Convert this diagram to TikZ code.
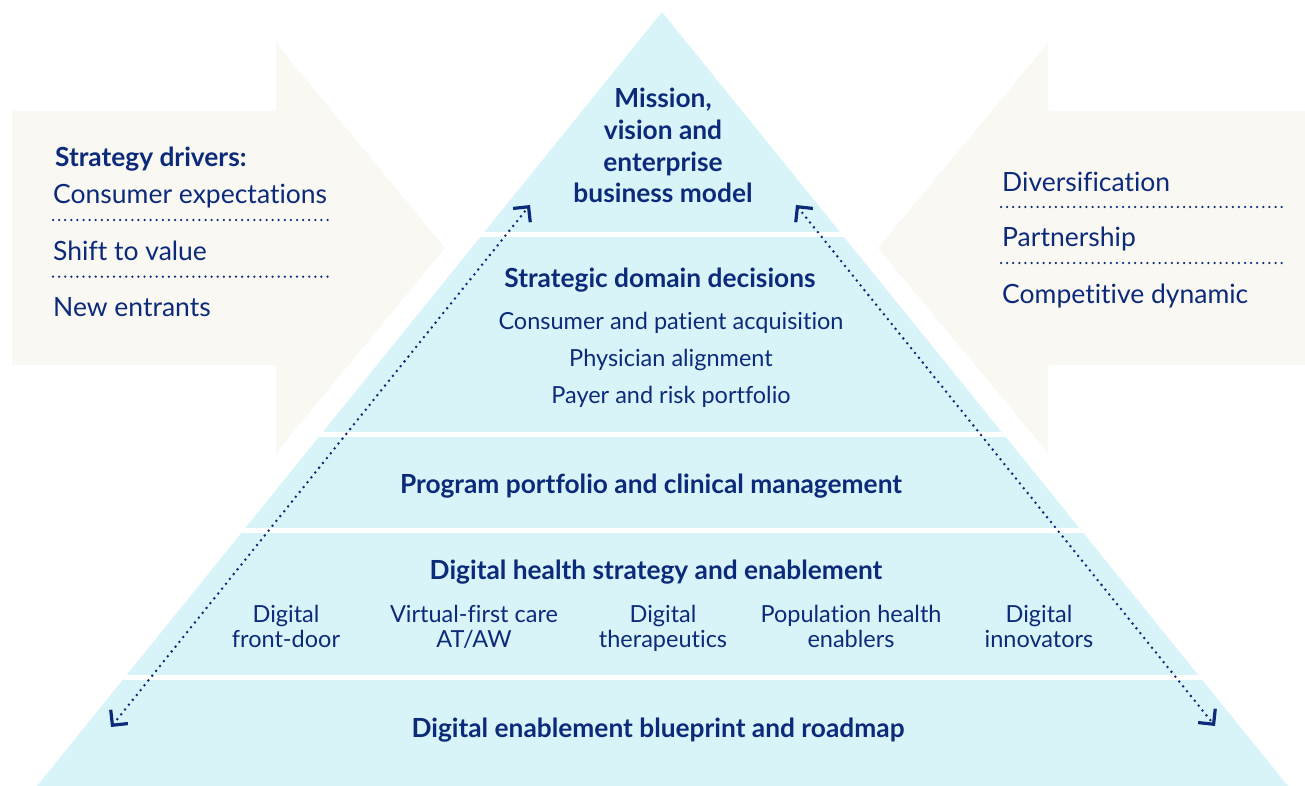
\documentclass[tikz,border=0pt]{standalone}
\usepackage{fontspec}
\setmainfont{Lato}[Ligatures=NoCommon]
\usetikzlibrary{arrows.meta,positioning}
\definecolor{navy}{RGB}{12,42,122}
\definecolor{paleblue}{RGB}{216,244,248}
\definecolor{sand}{RGB}{249,248,243}
\tikzset{
  lvl/.style={font=\bfseries\fontsize{26.3}{31.7}\selectfont,text=navy,align=center,inner sep=0pt,anchor=base},
  item/.style={font=\fontsize{23.5}{25}\selectfont,text=navy,align=center,inner sep=0pt,anchor=base},
  side/.style={font=\fontsize{26.5}{28}\selectfont,text=navy,inner sep=0pt,anchor=base west},
  sepline/.style={navy,line width=2.5pt,line cap=round,dash pattern=on 0pt off 6.1pt},
  link/.style={navy,line width=2.8pt,line cap=round,dash pattern=on 0pt off 6.2pt,
    {Straight Barb[length=11pt,width=22pt,line width=3.2pt]}-{Straight Barb[length=11pt,width=22pt,line width=3.2pt]}},
}
\begin{document}
\begin{tikzpicture}[x=1pt,y=-1pt]
\useasboundingbox (0,0) rectangle (1305,786);
% side arrows
\fill[sand] (12,111) -- (276,111) -- (276,43) -- (445,248) -- (276,453) -- (276,365) -- (12,365) -- cycle;
\fill[sand] (1305,111) -- (1048,111) -- (1048,43) -- (878,248) -- (1048,453) -- (1048,365) -- (1305,365) -- cycle;
%
% pyramid
\coordinate (apex) at (662,12);
\coordinate (baseL) at (37,786);
\coordinate (baseR) at (1288,786);
\fill[paleblue] (apex) -- (baseR) -- (baseL) -- cycle;
\begin{scope}
\clip (apex) -- (baseR) -- (baseL) -- cycle;
\foreach \y in {234.5,434.8,530,677}
  \draw[white,line width=5pt] (0,\y) -- (1305,\y);
\end{scope}
%
\node (mission) [lvl] at (663,203) {Mission,\\vision and\\enterprise\\business model};
\node (strat) [lvl] at (660,287) {Strategic domain decisions};
\node (cons) [item] at (671,329) {Consumer and patient acquisition};
\node (phys) [item] at (671,366) {Physician alignment};
\node (payer) [item] at (671,403) {Payer and risk portfolio};
\node (prog) [lvl] at (651,493) {Program portfolio and clinical management};
\node (dhs) [lvl] at (656,579) {Digital health strategy and enablement};
\node (front) [item] at (286,647) {Digital\\front-door};
\node (virt) [item] at (474,647) {Virtual-first care\\AT/AW};
\node (thera) [item] at (663,647) {Digital\\therapeutics};
\node (popu) [item] at (851,647) {Population health\\enablers};
\node (innov) [item] at (1039,647) {Digital\\innovators};
\node (blue) [lvl] at (658,737) {Digital enablement blueprint and roadmap};
%
% left arrow texts
\node (drivers) [side,font=\bfseries\fontsize{26.3}{28}\selectfont] at (55,167) {Strategy drivers:};
\node (expect) [side] at (53,204) {Consumer expectations};
\node (shift) [side] at (53,260) {Shift to value};
\node (entr) [side] at (53,316) {New entrants};
\draw[sepline] (53,220) -- (329,220);
\draw[sepline] (53,276.7) -- (329,276.7);
%
% right arrow texts
\node (divers) [side] at (1002,192) {Diversification};
\node (partn) [side] at (1002,247) {Partnership};
\node (compet) [side] at (1002,303) {Competitive dynamic};
\draw[sepline] (1001,207) -- (1284,207);
\draw[sepline] (1001,263) -- (1284,263);
%
% dotted links
\coordinate (lowL) at (111,727);
\coordinate (topL) at (530,205);
\coordinate (topR) at (796,205);
\coordinate (lowR) at (1215,726);
\draw[link] (lowL) -- (topL);
\draw[link] (topR) -- (lowR);
\end{tikzpicture}
\end{document}
